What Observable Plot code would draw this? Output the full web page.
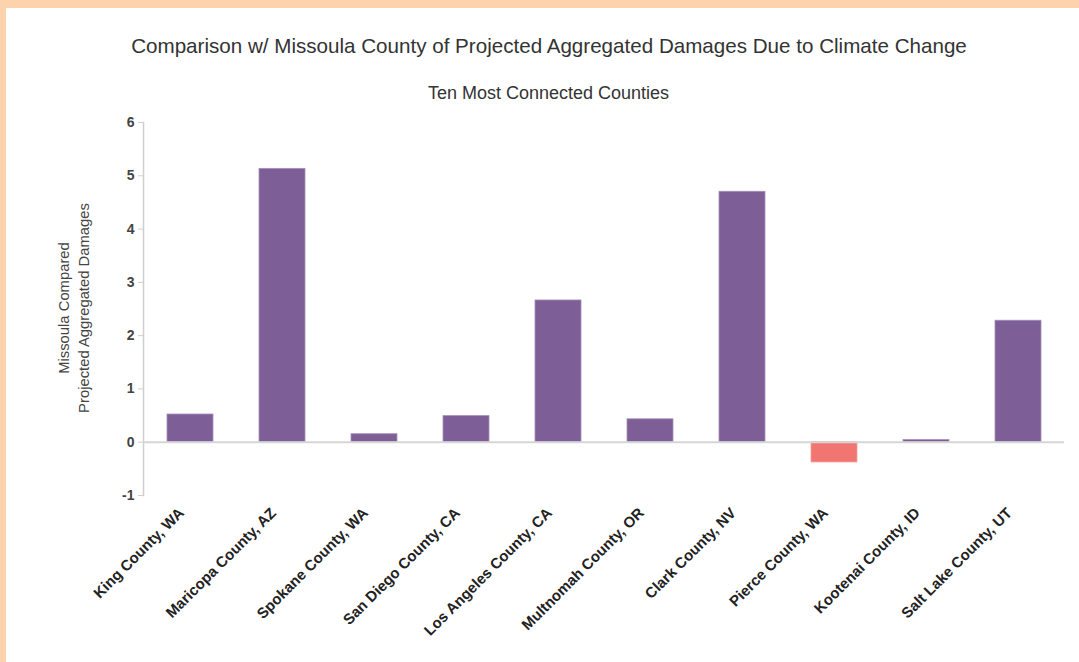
<!DOCTYPE html>
<html>
<head>
<meta charset="utf-8">
<script src="https://cdn.jsdelivr.net/npm/d3@7"></script>
<script src="https://cdn.jsdelivr.net/npm/@observablehq/plot@0.6"></script>
<style>
  html, body { margin: 0; padding: 0; }
  body { width: 1079px; height: 662px; background: #fdd3ae; position: relative; overflow: hidden; font-family: "Liberation Sans", Arial, sans-serif; }
  #panel { position: absolute; left: 6px; top: 8px; width: 1073px; height: 654px; background: #ffffff; }
  #title { position: absolute; left: 0; width: 1098px; top: 34px; text-align: center; font-size: 20.6px; color: #333; white-space: nowrap; }
  #subtitle { position: absolute; left: 0; width: 1097px; top: 83px; text-align: center; font-size: 18px; color: #333; white-space: nowrap; }
  #chart { position: absolute; left: 0; top: 0; }
  #chart svg { background: transparent !important; }
</style>
</head>
<body>
<div id="panel"></div>
<div id="title">Comparison w/ Missoula County of Projected Aggregated Damages Due to Climate Change</div>
<div id="subtitle">Ten Most Connected Counties</div>
<div id="chart"></div>
<script>
const counties = ["King County, WA", "Maricopa County, AZ", "Spokane County, WA", "San Diego County, CA", "Los Angeles County, CA", "Multnomah County, OR", "Clark County, NV", "Pierce County, WA", "Kootenai County, ID", "Salt Lake County, UT"];
const damages = [0.52, 5.13, 0.15, 0.49, 2.66, 0.43, 4.70, -0.38, 0.04, 2.28];
const yTicks = [-1, 0, 1, 2, 3, 4, 5, 6];
const yLabelLines = ["Missoula Compared", "Projected Aggregated Damages"];

const data = counties.map((c, i) => ({county: c, value: damages[i]}));

const chart = Plot.plot({
  width: 1079,
  height: 662,
  marginLeft: 143,
  marginRight: 15,
  marginTop: 122,
  marginBottom: 167,
  style: {background: "transparent", fontFamily: "Liberation Sans, Arial, sans-serif"},
  x: {domain: counties, paddingInner: 0.5, paddingOuter: 0.25, label: null},
  y: {domain: [-1, 6], label: null},
  marks: [
    Plot.frame({anchor: "left", stroke: "#cfcfcf", strokeWidth: 1.5}),
    Plot.axisY({ticks: yTicks, tickFormat: d => String(d), tickSize: 5, tickPadding: 4, stroke: "#cfcfcf", fill: "#444", fontSize: 14, fontWeight: "bold", label: null}),
    Plot.axisX({tickSize: 0, tickRotate: -45, tickPadding: 12, dx: -9, dy: 3, fill: "#222", fontSize: 15, fontWeight: "bold", label: null, textAnchor: "end"}),
    Plot.barY(data, {x: "county", y: "value", fill: d => d.value < 0 ? "#f17672" : "#7e5e97", stroke: d => d.value < 0 ? "#f5a09c" : "#a58fbb", strokeWidth: 0.8}),
    Plot.ruleY([0], {stroke: "#d6d6d6", strokeWidth: 2})
  ]
});
document.getElementById("chart").appendChild(chart);

// y-axis title (two lines, rotated)
const svg = d3.select(chart);
const g = svg.append("g").attr("font-size", 14.8).attr("fill", "#444").attr("text-anchor", "middle");
yLabelLines.forEach((line, i) => {
  g.append("text")
    .attr("transform", `translate(${69 + i * 20},308) rotate(-90)`)
    .text(line);
});
</script>
</body>
</html>
